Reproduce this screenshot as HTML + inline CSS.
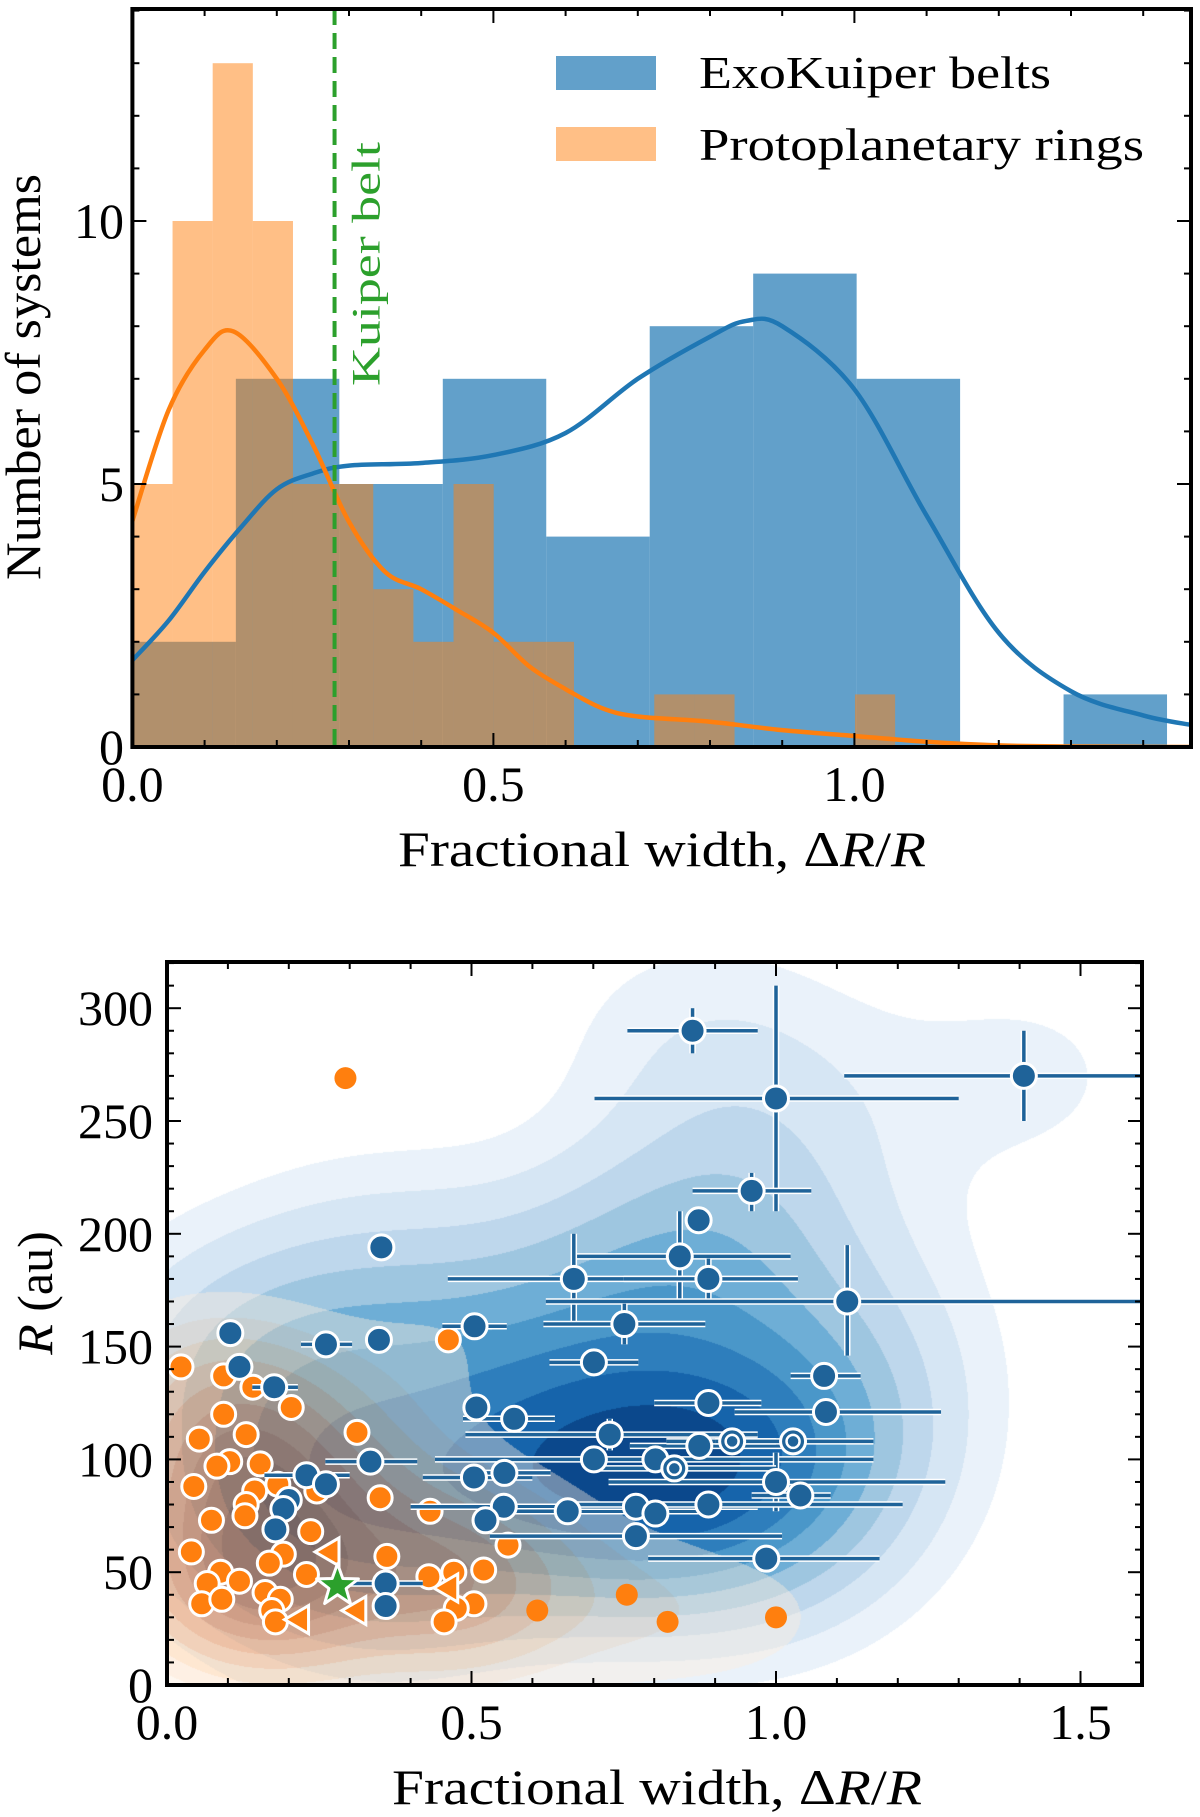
<!DOCTYPE html>
<html><head><meta charset="utf-8">
<style>
html,body{margin:0;padding:0;background:#fff;}
#wrap{position:relative;width:1200px;height:1817px;overflow:hidden;background:#fff;}
#kde{position:absolute;left:167px;top:962px;width:975px;height:723px;}
#chart{position:absolute;left:0;top:0;}
text{font-family:"Liberation Serif",serif;fill:#000;}
</style></head>
<body>
<div id="wrap">
<canvas id="kde" width="975" height="723"></canvas>
<svg id="chart" width="1200" height="1817" xmlns="http://www.w3.org/2000/svg"></svg>
</div>
<script>
// ===== Top histogram data =====
const blueBinWidth = 0.1433;
const blueCounts = [2, 7, 5, 7, 4, 8, 9, 7, 0, 1];
const orangeBinWidth = 0.0556;
const orangeCounts = [5, 10, 13, 10, 5, 5, 3, 2, 5, 2, 2, 0, 0, 1, 1, 0, 0, 0, 1];
const blueKdeX = [0, 0.05, 0.1, 0.15, 0.2, 0.25, 0.3, 0.4, 0.5, 0.6, 0.7, 0.8, 0.85, 0.9, 1.0, 1.1, 1.2, 1.3, 1.4, 1.466];
const blueKdeY = [1.65, 2.4, 3.33, 4.17, 4.9, 5.2, 5.35, 5.4, 5.55, 5.97, 7.0, 7.8, 8.1, 8.0, 6.8, 4.4, 2.17, 1.06, 0.6, 0.42];
const orangeKdeX = [0, 0.05, 0.1, 0.14, 0.2, 0.25, 0.3, 0.35, 0.4, 0.45, 0.5, 0.55, 0.6, 0.65, 0.7, 0.8, 0.9, 1.0, 1.1, 1.2, 1.3, 1.466];
const orangeKdeY = [4.3, 6.4, 7.55, 7.9, 7.0, 5.75, 4.28, 3.33, 3.0, 2.6, 2.17, 1.53, 1.1, 0.74, 0.58, 0.48, 0.32, 0.21, 0.1, 0.03, 0.01, 0];
const kuiperWidth = 0.28;
const topXTicks = ["0.0", "0.5", "1.0"];
const topXTickVals = [0, 0.5, 1.0];
const topYTickVals = [0, 5, 10];
const topYTicks = ["0", "5", "10"];

// ===== Bottom scatter data =====
const blueX = [0.863,1.407,1.0,0.96,0.873,0.842,0.668,0.889,1.117,0.751,0.505,0.352,0.104,0.348,0.261,0.119,0.176,0.701,1.079,0.508,0.57,0.889,1.082,0.727,0.701,0.802,0.874,0.334,0.229,0.261,0.504,0.554,1.0,1.04,0.2,0.191,0.553,0.658,0.77,0.802,0.889,0.523,0.178,0.77,0.984,0.359,0.359];
const blueY = [290,270,260,219,206,190,180,180,170,160,159,194,156,153,151,141,132,143,137,123,118,125,121,111,100,100,106,99,93,89,92,94,90,84,82,78,79,77,79,76,80,73,69,66,56,45,35];
const blueXLo = [0.756,1.112,0.702,0.863,null,0.668,0.461,0.75,0.622,0.618,0.452,0.335,null,null,0.22,null,0.14,0.628,1.024,0.49,0.486,0.8,0.932,0.49,0.44,null,0.76,0.26,0.16,null,0.42,0.5,0.725,0.96,null,null,0.4,0.53,0.65,null,0.67,null,null,0.53,0.79,0.3,null];
const blueXHi = [0.97,1.7,1.3,1.058,null,1.024,0.9,1.036,1.7,0.884,0.558,0.37,null,null,0.304,null,0.215,0.774,1.139,0.53,0.637,0.976,1.271,0.97,1.16,null,1.04,0.411,0.3,null,0.6,0.63,1.278,1.09,null,null,0.7,0.88,0.97,null,1.208,null,null,1.01,1.17,0.42,null];
const blueYLo = [280,250,210,210,null,170,161,171,146,151,null,null,null,null,null,null,null,null,null,null,null,null,null,104,null,null,null,null,null,null,null,null,77,null,null,null,null,null,null,null,null,null,null,null,null,null,null];
const blueYHi = [300,290,310,227,null,210,200,189,195,169,null,null,null,null,null,null,null,null,null,null,null,null,null,118,null,null,null,null,null,null,null,null,103,null,null,null,null,null,null,null,null,null,null,null,null,null,null];
const ringX = [0.928, 1.028, 0.833];
const ringY = [108, 108, 96];
const ringXLo = [0.82, 0.9, 0.7];
const ringXHi = [1.0, 1.16, 1.0];
const orangeX = [0.462,0.023,0.093,0.141,0.204,0.093,0.312,0.13,0.053,0.103,0.082,0.153,0.044,0.144,0.182,0.246,0.35,0.432,0.13,0.128,0.073,0.236,0.56,0.04,0.191,0.361,0.168,0.088,0.119,0.066,0.229,0.43,0.471,0.52,0.161,0.186,0.057,0.09,0.172,0.178,0.504,0.475,0.455];
const orangeY = [153,141,137,132,123,120,112,111,109,99,97,98,88,86,89,86,83,77,80,75,73,68,62,59,58,57,54,50,46,45,49,48,50,51,41,38,36,38,33,28,36,34,28];
const orangePlainX = [0.293, 0.608, 0.755, 0.822, 1.0];
const orangePlainY = [269, 33, 40, 28, 30];
const triX = [0.266, 0.216, 0.461, 0.31];
const triY = [59, 29, 43, 33];
const kuiperR = 44;
const botXTicks = ["0.0", "0.5", "1.0", "1.5"];
const botXTickVals = [0, 0.5, 1.0, 1.5];
const botYTickVals = [0, 50, 100, 150, 200, 250, 300];
const botYTicks = ["0", "50", "100", "150", "200", "250", "300"];

const NS = "http://www.w3.org/2000/svg";
const svg = document.getElementById('chart');
function mk(tag, attrs, parent) {
  const el = document.createElementNS(NS, tag);
  for (const k in attrs) el.setAttribute(k, attrs[k]);
  (parent || svg).appendChild(el);
  return el;
}

// ===== Top axes =====
const T = {x0: 132.4, x1: 1191, y0: 747, y1: 9, ppx: 722, ppy: 52.6};
const tx = v => T.x0 + v * T.ppx;
const ty = v => T.y0 - v * T.ppy;
const topG = mk('g', {'clip-path': 'url(#clipTop)'});


const defs = mk('defs', {});
const cp = mk('clipPath', {id: 'clipTop'}, defs);
mk('rect', {x: T.x0, y: T.y1, width: T.x1 - T.x0, height: T.y0 - T.y1}, cp);
const cp2 = mk('clipPath', {id: 'clipBot'}, defs);
mk('rect', {x: 167, y: 962, width: 975, height: 723}, cp2);
svg.insertBefore(defs, svg.firstChild);

blueCounts.forEach((c, i) => {
  if (!c) return;
  const r = mk('rect', {x: tx(i * blueBinWidth), y: ty(c), width: blueBinWidth * T.ppx, height: c * T.ppy, fill: '#1f77b4', 'fill-opacity': 0.7}, topG);
  
  
});
orangeCounts.forEach((c, i) => {
  if (!c) return;
  const r = mk('rect', {x: tx(i * orangeBinWidth), y: ty(c), width: orangeBinWidth * T.ppx, height: c * T.ppy, fill: '#ff7f0e', 'fill-opacity': 0.5}, topG);
  
  
});
function smoothPath(xs, ys, fx, fy) {
  const p = xs.map((x, i) => [fx(x), fy(ys[i])]);
  let d = 'M' + p[0][0] + ',' + p[0][1];
  for (let i = 0; i < p.length - 1; i++) {
    const p0 = p[i - 1] || p[i], p1 = p[i], p2 = p[i + 1], p3 = p[i + 2] || p2;
    const c1 = [p1[0] + (p2[0] - p0[0]) / 6, p1[1] + (p2[1] - p0[1]) / 6];
    const c2 = [p2[0] - (p3[0] - p1[0]) / 6, p2[1] - (p3[1] - p1[1]) / 6];
    d += ' C' + c1.join(',') + ' ' + c2.join(',') + ' ' + p2.join(',');
  }
  return d;
}
const bk = mk('path', {d: smoothPath(blueKdeX, blueKdeY, tx, ty), fill: 'none', stroke: '#1f77b4', 'stroke-width': 4.5}, topG);


const ok = mk('path', {d: smoothPath(orangeKdeX, orangeKdeY, tx, ty), fill: 'none', stroke: '#ff7f0e', 'stroke-width': 4.5}, topG);


const kl = mk('line', {x1: tx(kuiperWidth), x2: tx(kuiperWidth), y1: T.y1, y2: T.y0, stroke: '#2ca02c', 'stroke-width': 4, 'stroke-dasharray': '16,8'}, topG);


const kt = mk('text', {x: 0, y: 0, 'font-size': 40, fill: '#2ca02c', transform: 'translate(' + (tx(kuiperWidth) + 45) + ',386) rotate(-90)', textLength: 244, lengthAdjust: 'spacingAndGlyphs'});
kt.style.fill = '#2ca02c';
kt.textContent = 'Kuiper belt';



// legend
const lg = mk('g', {});


const lp1 = mk('rect', {x: 556, y: 56, width: 100, height: 34, fill: '#1f77b4', 'fill-opacity': 0.7}, lg);


const lt1 = mk('text', {x: 699, y: 88, 'font-size': 46, textLength: 352, lengthAdjust: 'spacingAndGlyphs'}, lg);
lt1.textContent = 'ExoKuiper belts';


const lp2 = mk('rect', {x: 556, y: 127, width: 100, height: 34, fill: '#ff7f0e', 'fill-opacity': 0.5}, lg);


const lt2 = mk('text', {x: 699, y: 160, 'font-size': 46, textLength: 445, lengthAdjust: 'spacingAndGlyphs'}, lg);
lt2.textContent = 'Protoplanetary rings';



function axesFrame(b, fx, fy, xMinor, yMinor, xMajor, yMajor, name) {
  const g = mk('g', {});
  
  
  xMinor.forEach(v => {
    const x = fx(v), L = xMajor.includes(v) ? 14 : 7;
    mk('line', {x1: x, x2: x, y1: b.y0, y2: b.y0 - L, stroke: '#000', 'stroke-width': 2}, g);
    mk('line', {x1: x, x2: x, y1: b.y1, y2: b.y1 + L, stroke: '#000', 'stroke-width': 2}, g);
  });
  yMinor.forEach(v => {
    const y = fy(v), L = yMajor.includes(v) ? 14 : 7;
    mk('line', {x1: b.x0, x2: b.x0 + L, y1: y, y2: y, stroke: '#000', 'stroke-width': 2}, g);
    mk('line', {x1: b.x1, x2: b.x1 - L, y1: y, y2: y, stroke: '#000', 'stroke-width': 2}, g);
  });
  mk('rect', {x: b.x0, y: b.y1, width: b.x1 - b.x0, height: b.y0 - b.y1, fill: 'none', stroke: '#000', 'stroke-width': 4}, g);
}
const topXMinor = [], topYMinor = [];
for (let i = 0; i <= 14; i++) topXMinor.push(+(i * 0.1).toFixed(1));
for (let i = 0; i <= 14; i++) topYMinor.push(i);
axesFrame(T, tx, ty, topXMinor, topYMinor, topXTickVals, topYTickVals, 'histogram-axes');
topXTickVals.forEach((v, i) => {
  const t = mk('text', {x: tx(v), y: 801, 'font-size': 50, 'text-anchor': 'middle'});
  t.textContent = topXTicks[i];
  
  
});
topYTickVals.forEach((v, i) => {
  const t = mk('text', {x: 124, y: ty(v) + 17, 'font-size': 50, 'text-anchor': 'end'});
  t.textContent = topYTicks[i];
  
  
});
const txl = mk('text', {x: 398, y: 866, 'font-size': 50, textLength: 528, lengthAdjust: 'spacingAndGlyphs'});
txl.innerHTML = 'Fractional width, Δ<tspan font-style="italic">R</tspan>/<tspan font-style="italic">R</tspan>';


const tyl = mk('text', {x: 0, y: 0, 'font-size': 50, 'text-anchor': 'middle', transform: 'translate(40,377) rotate(-90)', textLength: 406, lengthAdjust: 'spacingAndGlyphs'});
tyl.textContent = 'Number of systems';



// ===== Bottom axes =====
const B = {x0: 167, x1: 1142, y0: 1685, y1: 962, ppx: 609, ppy: 2.256};
const bx = v => B.x0 + v * B.ppx;
const by = v => B.y0 - v * B.ppy;

// KDE canvas
(function () {
  const cv = document.getElementById('kde');
  const ctx = cv.getContext('2d');
  const W = 975, H = 723;
  function dens(xs, ys, hx, hy) {
    const n = xs.length;
    const gx = [], gy = [];
    for (let i = 0; i < n; i++) {
      const ax = new Float32Array(W), ay = new Float32Array(H);
      for (let p = 0; p < W; p++) { const d = ((p + 0.5) / B.ppx - xs[i]) / hx; ax[p] = Math.exp(-0.5 * d * d); }
      for (let q = 0; q < H; q++) { const d = ((H - q - 0.5) / B.ppy - ys[i]) / hy; ay[q] = Math.exp(-0.5 * d * d); }
      gx.push(ax); gy.push(ay);
    }
    const out = new Float32Array(W * H);
    let mx = 0;
    for (let q = 0; q < H; q++) for (let p = 0; p < W; p++) {
      let s = 0;
      for (let i = 0; i < n; i++) s += gx[i][p] * gy[i][q];
      out[q * W + p] = s; if (s > mx) mx = s;
    }
    for (let k = 0; k < out.length; k++) out[k] /= mx;
    return out;
  }
  const bAllX = blueX.concat(ringX), bAllY = blueY.concat(ringY);
  const oAllX = orangeX.concat(orangePlainX, triX), oAllY = orangeY.concat(orangePlainY, triY);
  const db = dens(bAllX, bAllY, 0.17, 36);
  const dO = dens(oAllX, oAllY, 0.12, 25);
  const thrB = [0.06, 0.12, 0.2, 0.29, 0.39, 0.5, 0.62, 0.75, 0.88];
  const colB = [[234,242,250],[214,230,244],[190,215,236],[158,198,224],[110,174,214],[74,151,201],[46,126,188],[22,100,171],[11,72,140]];
  const thrO = [0.07, 0.14, 0.22, 0.32, 0.43, 0.55, 0.67, 0.79, 0.9];
  const colO = [[254,238,221],[253,220,190],[252,200,150],[249,170,110],[240,140,75],[222,112,50],[200,92,35],[176,75,25],[150,60,20]];
  const aO = 0.4;
  const img = ctx.createImageData(W, H);
  for (let k = 0; k < W * H; k++) {
    let r = 255, g = 255, b = 255;
    let lv = -1; const v = db[k];
    for (let j = 0; j < thrB.length; j++) if (v >= thrB[j]) lv = j;
    if (lv >= 0) { r = colB[lv][0]; g = colB[lv][1]; b = colB[lv][2]; }
    let lo = -1; const w = dO[k];
    for (let j = 0; j < thrO.length; j++) if (w >= thrO[j]) lo = j;
    if (lo >= 0) { const c = colO[lo]; const a = aO + lo * 0.02; r = r * (1 - a) + c[0] * a; g = g * (1 - a) + c[1] * a; b = b * (1 - a) + c[2] * a; }
    img.data[4 * k] = r; img.data[4 * k + 1] = g; img.data[4 * k + 2] = b; img.data[4 * k + 3] = 255;
  }
  ctx.putImageData(img, 0, 0);
})();

const botG = mk('g', {'clip-path': 'url(#clipBot)'});


const BLUE = '#1f6399', ORANGE = '#ff7f0e';

orangePlainX.forEach((x, i) => {
  const c = mk('circle', {cx: bx(x), cy: by(orangePlainY[i]), r: 11, fill: ORANGE}, botG);
  
  
});
orangeX.forEach((x, i) => {
  const c = mk('circle', {cx: bx(x), cy: by(orangeY[i]), r: 12, fill: ORANGE, stroke: '#fff', 'stroke-width': 3}, botG);
  
  
});
triX.forEach((x, i) => {
  const cx = bx(x), cy = by(triY[i]);
  const p = mk('polygon', {points: (cx - 14) + ',' + cy + ' ' + (cx + 10) + ',' + (cy - 14) + ' ' + (cx + 10) + ',' + (cy + 14), fill: ORANGE, stroke: '#fff', 'stroke-width': 3}, botG);
  
  
});
function errbar(x1, y1, x2, y2, g) {
  mk('line', {x1: x1, y1: y1, x2: x2, y2: y2, stroke: '#fff', 'stroke-width': 6.5}, g);
  const l = mk('line', {x1: x1, y1: y1, x2: x2, y2: y2, stroke: BLUE, 'stroke-width': 3.5}, g);
  
  
}
const ebG = mk('g', {}, botG);


blueX.forEach((x, i) => {
  if (blueXLo[i] !== null) errbar(bx(blueXLo[i]), by(blueY[i]), bx(blueXHi[i]), by(blueY[i]), ebG);
  if (blueYLo[i] !== null) errbar(bx(x), by(blueYLo[i]), bx(x), by(blueYHi[i]), ebG);
});
ringX.forEach((x, i) => errbar(bx(ringXLo[i]), by(ringY[i]), bx(ringXHi[i]), by(ringY[i]), ebG));
blueX.forEach((x, i) => {
  const c = mk('circle', {cx: bx(x), cy: by(blueY[i]), r: 12.5, fill: BLUE, stroke: '#fff', 'stroke-width': 3}, botG);
  
  
});
ringX.forEach((x, i) => {
  const c = mk('circle', {cx: bx(x), cy: by(ringY[i]), r: 12.5, fill: BLUE, stroke: '#fff', 'stroke-width': 3}, botG);
  
  
  mk('circle', {cx: bx(x), cy: by(ringY[i]), r: 6.5, fill: 'none', stroke: '#fff', 'stroke-width': 2.5}, botG);
});
(function () {
  const cx = bx(kuiperWidth), cy = by(kuiperR);
  let pts = [];
  for (let k = 0; k < 10; k++) {
    const a = -Math.PI / 2 + k * Math.PI / 5, rr = k % 2 ? 9 : 22;
    pts.push((cx + rr * Math.cos(a)).toFixed(1) + ',' + (cy + rr * Math.sin(a)).toFixed(1));
  }
  const s = mk('polygon', {points: pts.join(' '), fill: '#2ca02c', stroke: '#fff', 'stroke-width': 3, 'stroke-linejoin': 'round'}, botG);
  
  
})();

const botXMinor = [], botYMinor = [];
for (let i = 0; i <= 16; i++) botXMinor.push(+(i * 0.1).toFixed(1));
for (let i = 0; i <= 32; i++) botYMinor.push(i * 10);
axesFrame(B, bx, by, botXMinor, botYMinor, botXTickVals, botYTickVals, 'scatter-axes');
botXTickVals.forEach((v, i) => {
  const t = mk('text', {x: bx(v), y: 1739, 'font-size': 50, 'text-anchor': 'middle'});
  t.textContent = botXTicks[i];
  
  
});
botYTickVals.forEach((v, i) => {
  const t = mk('text', {x: 153, y: by(v) + 17, 'font-size': 50, 'text-anchor': 'end'});
  t.textContent = botYTicks[i];
  
  
});
const bxl = mk('text', {x: 392, y: 1804, 'font-size': 50, textLength: 530, lengthAdjust: 'spacingAndGlyphs'});
bxl.innerHTML = 'Fractional width, Δ<tspan font-style="italic">R</tspan>/<tspan font-style="italic">R</tspan>';


const byl = mk('text', {x: 0, y: 0, 'font-size': 50, 'text-anchor': 'middle', transform: 'translate(52,1293) rotate(-90)'});
byl.innerHTML = '<tspan font-style="italic">R</tspan> (au)';


</script>
</body></html>
